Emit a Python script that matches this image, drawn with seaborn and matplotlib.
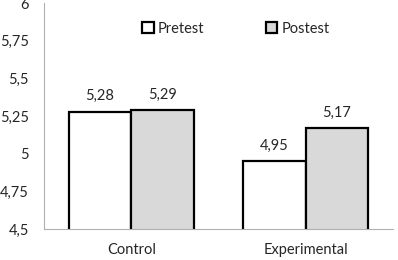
import matplotlib
matplotlib.use("Agg")
import matplotlib.pyplot as plt
import seaborn as sns
import pandas as pd

groups = ["Control", "Experimental"]
tests = ["Pretest", "Postest"]
pretest = [5.28, 4.95]
postest = [5.29, 5.17]
yticks = [4.5, 4.75, 5, 5.25, 5.5, 5.75, 6]

df = pd.DataFrame({
    "group": groups * 2,
    "test": [tests[0]] * 2 + [tests[1]] * 2,
    "score": pretest + postest,
})

sns.set_style("white")
plt.rcParams["font.family"] = ["Lato", "DejaVu Sans"]

fig = plt.figure(figsize=(3.98, 2.60), dpi=100)
ax = fig.add_axes([0.111, 0.119, 0.876, 0.869])

sns.barplot(data=df, x="group", y="score", hue="test", order=groups, hue_order=tests,
            palette=["white", "#d9d9d9"], edgecolor="black", linewidth=1.6,
            width=0.72, gap=0, ax=ax, legend=True)

ax.set_ylim(4.5, 6)
ax.set_xlim(-0.5, 1.5)
ax.set_yticks(yticks)
ax.set_yticklabels([str(t).replace(".", ",") for t in yticks], fontsize=10.5)
ax.tick_params(axis="y", length=0, pad=11)
ax.tick_params(axis="x", length=0, pad=10)
for lab in ax.get_xticklabels():
    lab.set_fontsize(10.5)
ax.set_xlabel("")
ax.set_ylabel("")

for c in ax.containers:
    ax.bar_label(c, labels=[f"{v:.2f}".replace(".", ",") for v in c.datavalues],
                 padding=6, fontsize=10.5)

for s in ["top", "right"]:
    ax.spines[s].set_visible(False)
ax.spines["left"].set_color("#b0b0b0")
ax.spines["bottom"].set_color("#b0b0b0")

leg = ax.legend(loc="upper center", bbox_to_anchor=(0.55, 0.975), ncol=2, frameon=False,
                fontsize=10.5, handlelength=0.8, handleheight=0.8, columnspacing=4.2,
                handletextpad=0.3)

fig.savefig("out.png", dpi=100)
